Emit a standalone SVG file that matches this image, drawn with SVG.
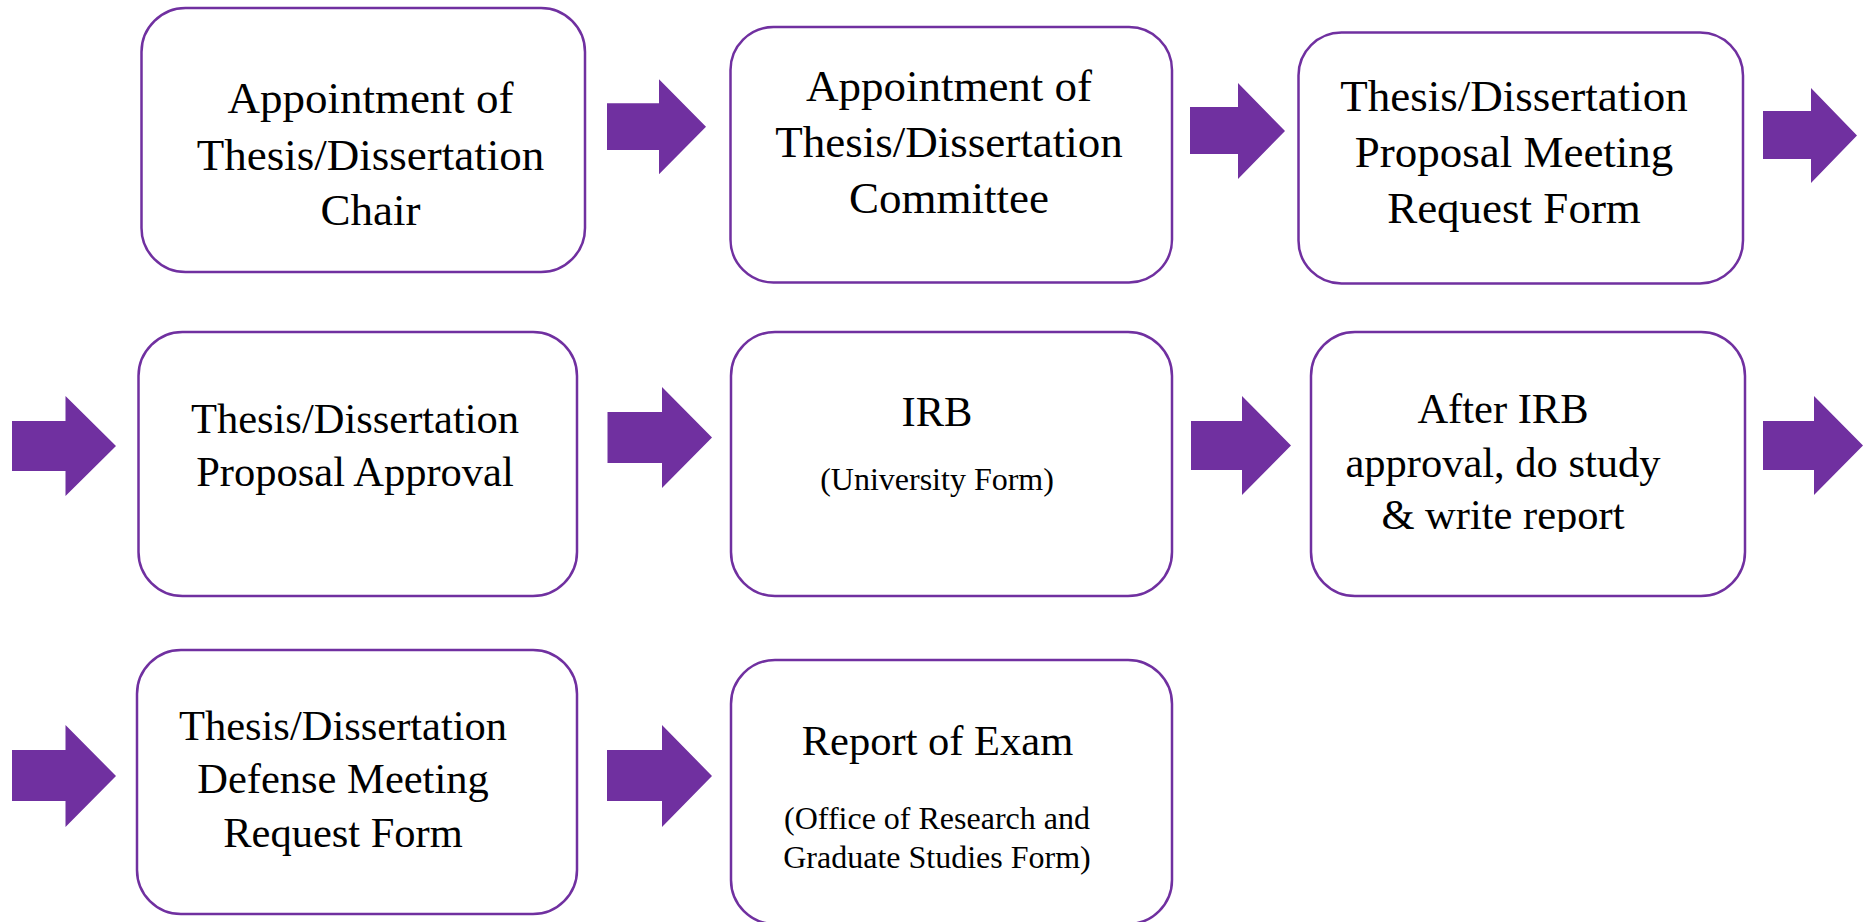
<svg xmlns="http://www.w3.org/2000/svg" width="1868" height="922" viewBox="0 0 1868 922">
<defs>
<style>
.box{fill:#FFFFFF;stroke:#7030A0;stroke-width:2.5}
.arr{fill:#7030A0;stroke:none}
.t{font-family:"Liberation Serif","Times New Roman",serif;fill:#000000;text-anchor:middle}
.big{font-size:45px}
.mid{font-size:42.5px}
.sm{font-size:32px}
</style>
<clipPath id="clip6"><rect x="1300" y="330" width="450" height="202"/></clipPath>
</defs>
<rect width="1868" height="922" fill="#FFFFFF"/>
<g id="connectors">
<path class="arr" d="M607,103.3 H659 V79.3 L706,126.7 L659,174.3 V150 H607 Z"/>
<path class="arr" d="M1190,107 H1238 V83 L1285,131 L1238,179 V154 H1190 Z"/>
<path class="arr" d="M1763,111 H1811 V88 L1857,135.5 L1811,183 V159 H1763 Z"/>
<path class="arr" d="M12,421 H65.5 V396 L116,446 L65.5,496 V471 H12 Z"/>
<path class="arr" d="M607.5,412 H662 V387 L712,437.5 L662,488 V463 H607.5 Z"/>
<path class="arr" d="M1191,421 H1242 V396 L1291,445.5 L1242,495 V470 H1191 Z"/>
<path class="arr" d="M1763,421 H1814 V396 L1863,445.5 L1814,495 V470 H1763 Z"/>
<path class="arr" d="M12,750 H65.5 V725 L116,776 L65.5,827 V801 H12 Z"/>
<path class="arr" d="M607,750 H662 V725 L712,776 L662,827 V801 H607 Z"/>
</g>
<g id="node1">
<rect class="box" x="141.5" y="8" width="443.5" height="264" rx="44" ry="44"/>
<text class="t big" x="370.5" y="113">Appointment of</text>
<text class="t big" x="370.5" y="169.5">Thesis/Dissertation</text>
<text class="t big" x="370.5" y="224.5">Chair</text>
</g>
<g id="node2">
<rect class="box" x="730.5" y="27" width="441.5" height="255.5" rx="43" ry="43"/>
<text class="t big" x="949" y="101">Appointment of</text>
<text class="t big" x="949" y="157.3">Thesis/Dissertation</text>
<text class="t big" x="949" y="213">Committee</text>
</g>
<g id="node3">
<rect class="box" x="1298.5" y="32.5" width="444.5" height="251" rx="43" ry="43"/>
<text class="t big" x="1514" y="110.7">Thesis/Dissertation</text>
<text class="t big" x="1514" y="167.3">Proposal Meeting</text>
<text class="t big" x="1514" y="222.7">Request Form</text>
</g>
<g id="node4">
<rect class="box" x="138.5" y="332" width="438.5" height="264" rx="44" ry="44"/>
<text class="t mid" x="355" y="432.7">Thesis/Dissertation</text>
<text class="t mid" x="355" y="485.7">Proposal Approval</text>
</g>
<g id="node5">
<rect class="box" x="731" y="332" width="441" height="264" rx="44" ry="44"/>
<text class="t mid" x="937" y="426">IRB</text>
<text class="t sm" x="937" y="490">(University Form)</text>
</g>
<g id="node6">
<rect class="box" x="1311" y="332" width="434" height="264" rx="44" ry="44"/>
<text class="t mid" x="1503" y="423">After IRB</text>
<text class="t mid" x="1503" y="477">approval, do study</text>
<text class="t mid" x="1503" y="529.3" clip-path="url(#clip6)">&amp; write report</text>
</g>
<g id="node7">
<rect class="box" x="137" y="650" width="440" height="264" rx="44" ry="44"/>
<text class="t mid" x="343" y="740">Thesis/Dissertation</text>
<text class="t mid" x="343" y="793.3">Defense Meeting</text>
<text class="t mid" x="343" y="846.7">Request Form</text>
</g>
<g id="node8">
<rect class="box" x="731" y="660" width="441" height="264" rx="44" ry="44"/>
<text class="t mid" x="937.5" y="755">Report of Exam</text>
<text class="t sm" x="937" y="829">(Office of Research and</text>
<text class="t sm" x="937" y="868">Graduate Studies Form)</text>
</g>
</svg>
